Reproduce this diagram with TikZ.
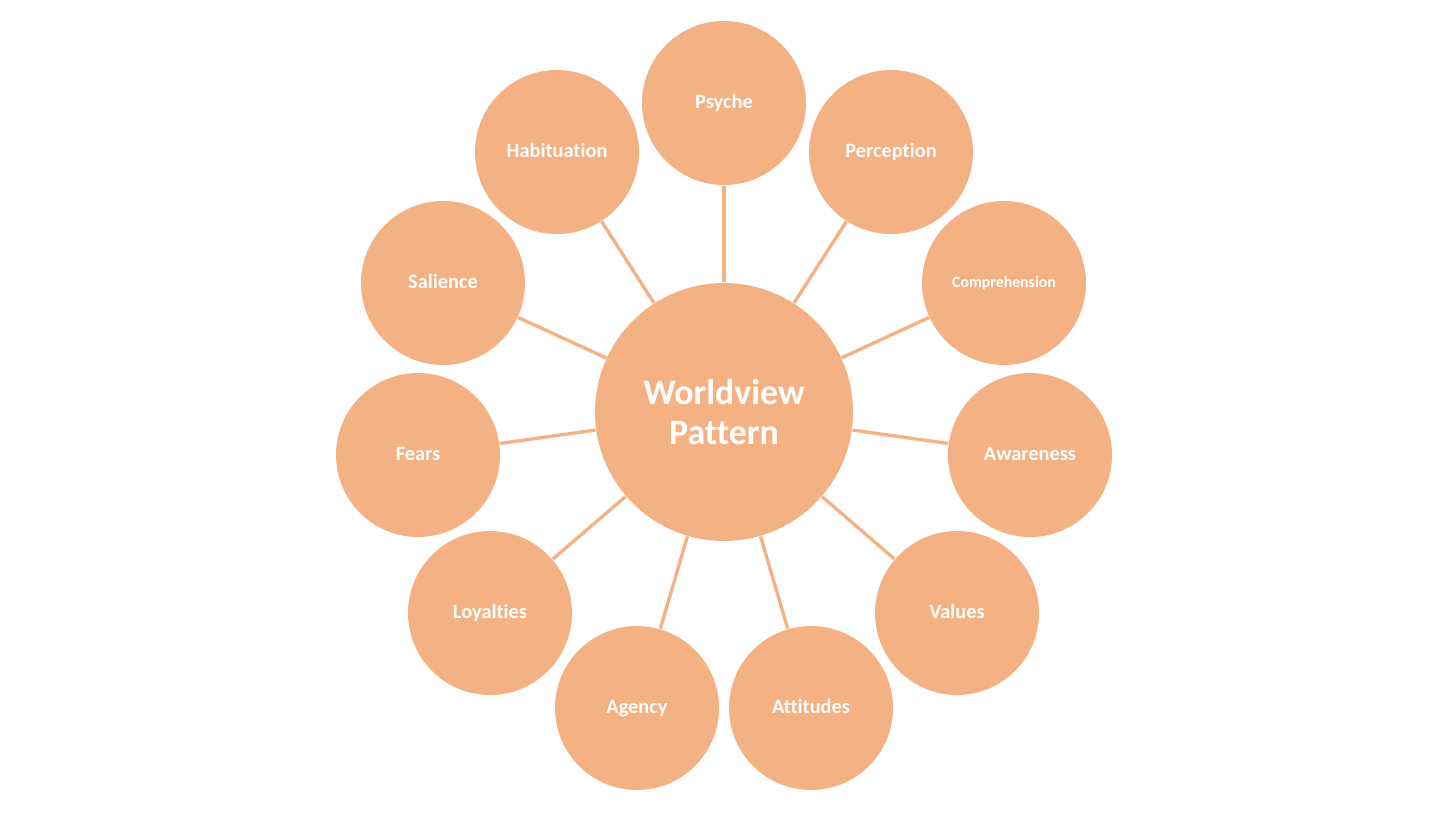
\documentclass[tikz,border=0pt]{standalone}
\usepackage{fontspec}
\setmainfont[Ligatures=NoCommon]{Carlito}
\usepackage{tikz}
\usetikzlibrary{positioning}
\usepackage{xcolor}
\definecolor{peach}{HTML}{F4B183}

\begin{document}
\begin{tikzpicture}[
    hub/.style={circle, fill=peach, minimum size=2.58cm, inner sep=0pt, align=center, text=white, font=\bfseries\fontsize{10.2}{11.4}\selectfont},
    petal/.style={circle, fill=peach, minimum size=1.64cm, inner sep=0pt, text height=3.2pt, text depth=0pt, text=white, font=\bfseries\fontsize{5.8}{6.9}\selectfont},
    spoke/.style={draw=peach, line width=0.95pt}
]
    \useasboundingbox (0,0) rectangle (14.56,8.19);
    \node[hub] (wv) at (7.24,4.07) {Worldview\\Pattern};
    % outer ring
    \node[petal] (psy) at (7.24,7.16) {Psyche};
    \node[petal] (per) at (8.91,6.67) {Perception};
    \node[petal, font=\bfseries\fontsize{4.5}{5.2}\selectfont, text height=2.6pt] (com) at (10.04,5.36) {Comprehension};
    \node[petal] (awa) at (10.30,3.64) {Awareness};
    \node[petal] (val) at (9.57,2.06) {Values};
    \node[petal] (att) at (8.11,1.11) {Attitudes};
    \node[petal] (age) at (6.37,1.11) {Agency};
    \node[petal] (loy) at (4.90,2.06) {Loyalties};
    \node[petal] (fea) at (4.18,3.64) {Fears};
    \node[petal] (sal) at (4.43,5.36) {Salience};
    \node[petal] (hab) at (5.57,6.67) {Habituation};
    % spokes
    \foreach \n in {psy,per,com,awa,val,att,age,loy,fea,sal,hab}
        \draw[spoke] (wv) -- (\n);
\end{tikzpicture}
\end{document}
